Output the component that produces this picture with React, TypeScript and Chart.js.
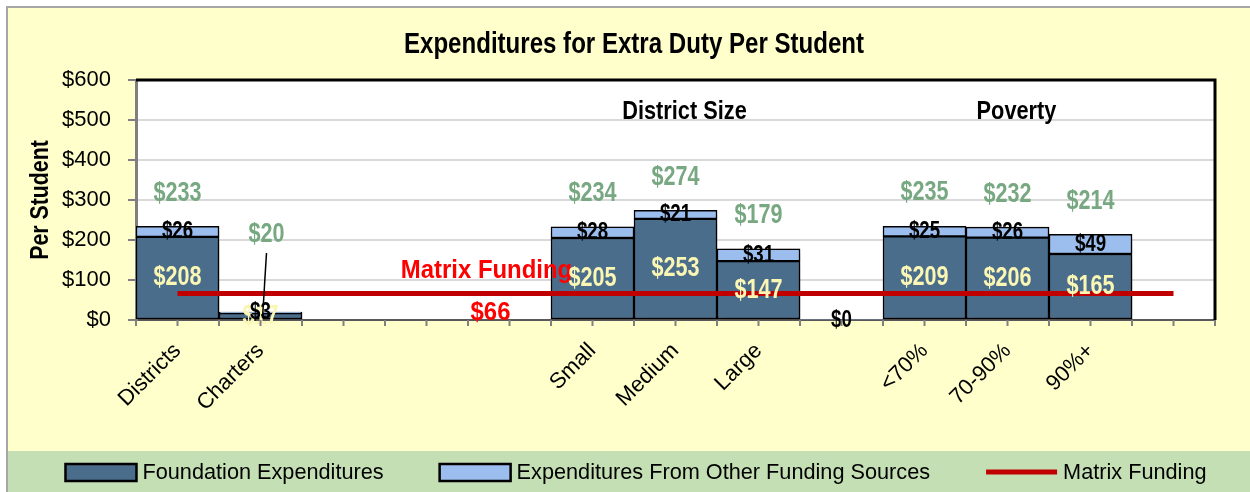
import React, { useEffect, useRef } from 'react';
import { Chart, registerables } from 'chart.js';
Chart.register(...registerables);

const categories = ['Districts', 'Charters', '', '', '', 'Small', 'Medium', 'Large', '', '<70%', '70-90%', '90%+', ''];
const foundation = [208, 17, null, null, null, 205, 253, 147, null, 209, 206, 165, null];
const otherSources = [26, 3, null, null, null, 28, 21, 31, 0, 25, 26, 49, null];
const totals = [233, 20, null, null, null, 234, 274, 179, null, 235, 232, 214, null];
const matrixFunding = [66, 66, 66, 66, 66, 66, 66, 66, 66, 66, 66, 66, 66];
const matrixValueLabel = '$66';
const groupLabels = ['District Size', 'Poverty'];
const groupCenterIndex = [6, 10];
const seriesNames = ['Foundation Expenditures', 'Expenditures From Other Funding Sources', 'Matrix Funding'];
const chartTitle = 'Expenditures for Extra Duty Per Student';
const yAxisTitle = 'Per Student';

const REG = "'Liberation Sans', Arial, sans-serif";
const C_FOUND = '#4B6D8C';
const C_OTHER = '#9CBEEE';
const C_RED = '#C00000';
const C_GREEN = '#78A882';
const C_YELLOW = '#FAF6B4';

const fmt = (v: number) => '$' + v;

function drawText(ctx: any, text: string, x: number, y: number, font: string, color: string, sx: number, rot = 0) {
  ctx.save();
  ctx.font = font;
  ctx.fillStyle = color;
  ctx.textAlign = 'center';
  ctx.textBaseline = 'middle';
  ctx.translate(x, y);
  if (rot) ctx.rotate(rot);
  ctx.scale(sx, 1);
  ctx.fillText(text, 0, 0);
  ctx.restore();
}

const decorPlugin = {
  id: 'decor',
  beforeDraw(chart: any) {
    const { ctx, width, height, chartArea } = chart;
    ctx.save();
    ctx.fillStyle = '#FFFFFF';
    ctx.fillRect(0, 0, width, height);
    ctx.fillStyle = '#FFFFCC';
    ctx.fillRect(8, 8, width - 8, height - 8);
    ctx.fillStyle = '#C4DFB4';
    ctx.fillRect(8, 451, width - 8, height - 451);
    ctx.strokeStyle = '#A6A6A6';
    ctx.lineWidth = 2;
    ctx.beginPath();
    ctx.moveTo(7, height);
    ctx.lineTo(7, 7);
    ctx.lineTo(width, 7);
    ctx.stroke();
    ctx.fillStyle = '#FFFFFF';
    ctx.fillRect(chartArea.left, chartArea.top, chartArea.right - chartArea.left, chartArea.bottom - chartArea.top);
    ctx.restore();
  },
  beforeDatasetDraw(chart: any, args: any) {
    const ctx = chart.ctx;
    ctx.save();
    if (args.meta.type === 'bar') {
      ctx.shadowColor = 'rgba(0,0,0,0.35)';
      ctx.shadowBlur = 7;
      ctx.shadowOffsetX = 5;
      ctx.shadowOffsetY = 3;
    }
  },
  afterDatasetDraw(chart: any) {
    chart.ctx.restore();
  },
  afterDatasetsDraw(chart: any) {
    const { ctx, chartArea } = chart;
    const xS = chart.scales.x;
    const yS = chart.scales.y;
    ctx.save();
    ctx.strokeStyle = '#000000';
    ctx.lineWidth = 3;
    ctx.beginPath();
    ctx.moveTo(chartArea.left, chartArea.top);
    ctx.lineTo(chartArea.right, chartArea.top);
    ctx.lineTo(chartArea.right, chartArea.bottom);
    ctx.stroke();
    ctx.restore();

    const m0 = chart.getDatasetMeta(0);
    const m1 = chart.getDatasetMeta(1);

    groupLabels.forEach((g, k) => {
      drawText(ctx, g, xS.getPixelForValue(groupCenterIndex[k]) + 9, yS.getPixelForValue(520), `bold 25px ${REG}`, '#000000', 0.87);
    });

    const mx = xS.getPixelForValue(4) - 23;
    const my = yS.getPixelForValue(matrixFunding[4]);
    drawText(ctx, seriesNames[2], mx, my - 23, `bold 26px ${REG}`, '#FF0000', 0.92);
    drawText(ctx, matrixValueLabel, mx + 4, my + 19, `bold 26px ${REG}`, '#FF0000', 0.92);

    const bigFont = `bold 27px ${REG}`;
    const smallFont = `bold 24px ${REG}`;
    foundation.forEach((v, i) => {
      if (v == null) return;
      const el = m0.data[i];
      drawText(ctx, fmt(v), el.x, (el.y + el.base) / 2, bigFont, C_YELLOW, 0.8);
    });
    otherSources.forEach((v, i) => {
      if (v == null) return;
      const el = m1.data[i];
      drawText(ctx, fmt(v), el.x, (el.y + el.base) / 2, smallFont, '#000000', 0.78);
    });
    const zeroY = yS.getPixelForValue(0);
    totals.forEach((v, i) => {
      if (v == null) return;
      const x = xS.getPixelForValue(i);
      const top = yS.getPixelForValue(v);
      const natural = top - 33;
      const ly = Math.min(natural, zeroY - 85);
      const lifted = ly < natural - 1;
      const lx = lifted ? x + 6 : x;
      if (lifted) {
        ctx.save();
        ctx.strokeStyle = '#000000';
        ctx.lineWidth = 1.5;
        ctx.beginPath();
        ctx.moveTo(lx, ly + 18);
        ctx.lineTo(x + 2, zeroY - 2);
        ctx.stroke();
        ctx.restore();
      }
      drawText(ctx, fmt(v), lx, ly, bigFont, C_GREEN, 0.8);
    });
  },
  afterDraw(chart: any) {
    const { ctx, chartArea } = chart;
    ctx.save();
    const n = categories.length * 2;
    ctx.strokeStyle = '#808080';
    ctx.lineWidth = 2;
    ctx.beginPath();
    for (let i = 0; i <= n; i++) {
      const x = chartArea.left + (i * (chartArea.right - chartArea.left)) / n;
      ctx.moveTo(x, chartArea.bottom);
      ctx.lineTo(x, chartArea.bottom + 6);
    }
    ctx.stroke();
    ctx.restore();

    drawText(ctx, chartTitle, 634, 45, `bold 29px ${REG}`, '#000000', 0.83);
    drawText(ctx, yAxisTitle, 41, 200, `bold 26px ${REG}`, '#000000', 0.82, -Math.PI / 2);

    ctx.save();
    const cy = 472;
    ctx.font = `21.7px ${REG}`;
    ctx.textBaseline = 'middle';
    ctx.textAlign = 'left';
    const boxW = 71, gapT = 6, spacing = 56;
    const widths = seriesNames.map((s) => boxW + gapT + ctx.measureText(s).width);
    const total = widths.reduce((a, b) => a + b, 0) + spacing * (widths.length - 1);
    let x = 636 - total / 2;
    seriesNames.forEach((s, k) => {
      if (k < 2) {
        ctx.fillStyle = k === 0 ? C_FOUND : C_OTHER;
        ctx.fillRect(x, cy - 8, boxW, 17);
        ctx.strokeStyle = '#000000';
        ctx.lineWidth = 2.5;
        ctx.strokeRect(x, cy - 8, boxW, 17);
      } else {
        ctx.strokeStyle = C_RED;
        ctx.lineWidth = 5;
        ctx.beginPath();
        ctx.moveTo(x, cy);
        ctx.lineTo(x + boxW, cy);
        ctx.stroke();
      }
      ctx.fillStyle = '#000000';
      ctx.fillText(s, x + boxW + gapT, cy + 1);
      x += widths[k] + spacing;
    });
    ctx.restore();
  },
};

export default function App() {
  const ref = useRef<HTMLCanvasElement>(null);
  useEffect(() => {
    if (!ref.current) return;
    const chart = new Chart(ref.current, {
      type: 'bar',
      data: {
        labels: categories,
        datasets: [
          {
            label: seriesNames[0],
            data: foundation,
            backgroundColor: C_FOUND,
            borderColor: '#000000',
            borderWidth: 1.5,
            borderSkipped: false,
            categoryPercentage: 1,
            barPercentage: 1,
            order: 1,
          } as any,
          {
            label: seriesNames[1],
            data: otherSources,
            backgroundColor: C_OTHER,
            borderColor: '#000000',
            borderWidth: (c: any) => (c.raw ? 1.5 : 0),
            borderSkipped: false,
            categoryPercentage: 1,
            barPercentage: 1,
            order: 1,
          } as any,
          {
            type: 'line',
            label: seriesNames[2],
            data: matrixFunding,
            borderColor: C_RED,
            backgroundColor: C_RED,
            borderWidth: 5,
            pointRadius: 0,
            order: 0,
          } as any,
        ],
      },
      options: {
        animation: false,
        responsive: false,
        devicePixelRatio: 1,
        layout: { padding: { left: 0, right: 35, top: 80, bottom: 0 } },
        plugins: {
          legend: { display: false },
          tooltip: { enabled: false },
          title: { display: false },
        },
        scales: {
          x: {
            stacked: true,
            offset: true,
            grid: { display: false },
            border: { display: true, color: '#595959', width: 2 },
            ticks: {
              autoSkip: false,
              minRotation: 45,
              maxRotation: 45,
              color: '#000000',
              font: { family: REG, size: 22 },
              padding: 10,
            },
            afterFit: (s: any) => {
              s.height = 172;
            },
          },
          y: {
            stacked: true,
            min: 0,
            max: 600,
            ticks: {
              stepSize: 100,
              color: '#000000',
              font: { family: REG, size: 22 },
              padding: 17,
              callback: (v: any) => fmt(Number(v)),
            },
            grid: { color: '#D9D9D9', lineWidth: 2, tickLength: 8, tickColor: '#808080', tickWidth: 2 },
            border: { display: true, color: '#7F7F7F', width: 3 },
            afterFit: (s: any) => {
              s.width = 136;
            },
          },
        },
      },
      plugins: [decorPlugin],
    });
    return () => chart.destroy();
  }, []);
  return (
    <div style={{ position: 'fixed', left: 0, top: 0, width: 1250, height: 492 }}>
      <canvas ref={ref} width={1250} height={492} style={{ display: 'block' }} />
    </div>
  );
}
